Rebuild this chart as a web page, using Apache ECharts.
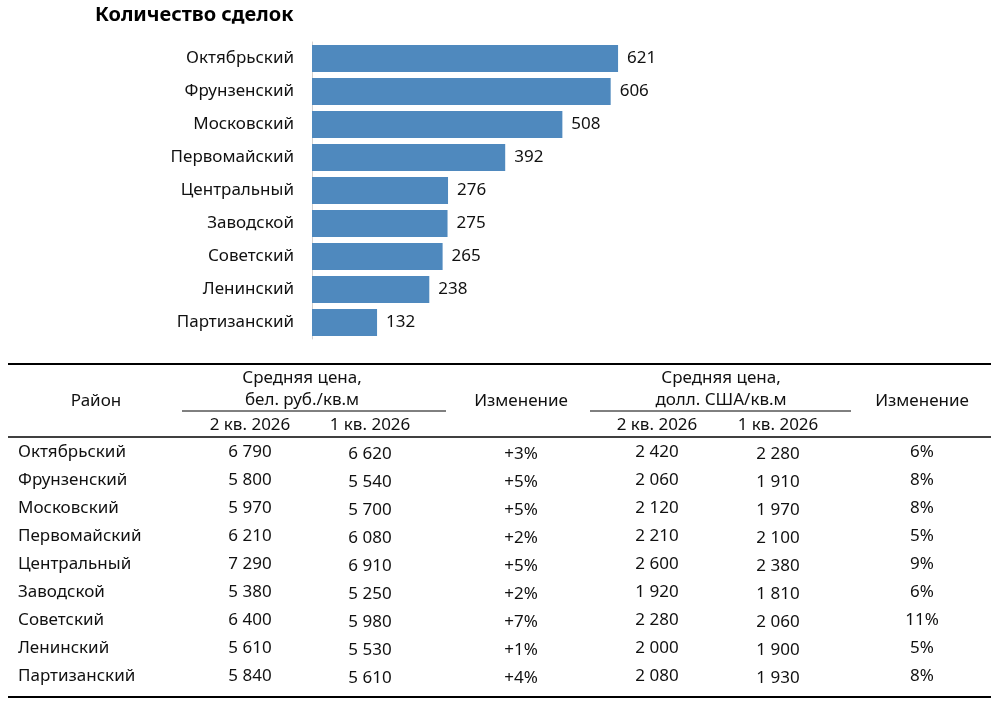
<!DOCTYPE html>
<html><head><meta charset="utf-8">
<script src="https://cdn.jsdelivr.net/npm/echarts@6/dist/echarts.min.js"></script>
<style>html,body{margin:0;background:#fff}#c{width:1000px;height:701px}</style>
</head><body><div id="c"></div>
<script>
var districts = ['Октябрьский','Фрунзенский','Московский','Первомайский','Центральный','Заводской','Советский','Ленинский','Партизанский'];
var deals = [621, 606, 508, 392, 276, 275, 265, 238, 132];
var bynQ2 = ['6 790','5 800','5 970','6 210','7 290','5 380','6 400','5 610','5 840'];
var bynQ1 = ['6 620','5 540','5 700','6 080','6 910','5 250','5 980','5 530','5 610'];
var bynChg = ['+3%','+5%','+5%','+2%','+5%','+2%','+7%','+1%','+4%'];
var usdQ2 = ['2 420','2 060','2 120','2 210','2 600','1 920','2 280','2 000','2 080'];
var usdQ1 = ['2 280','1 910','1 970','2 100','2 380','1 810','2 060','1 900','1 930'];
var usdChg = ['6%','8%','8%','5%','9%','6%','11%','5%','8%'];

var font = 'Noto Sans';
var chart = echarts.init(document.getElementById('c'));
var g = [];
function txt(x, y, s, align, extra) {
  g.push({type: 'text', x: x, y: y, style: Object.assign({text: s, fill: '#111', font: '17px "' + font + '"', align: align || 'center', verticalAlign: 'middle'}, extra || {})});
}
function line(x1, y1, x2, y2, w) {
  g.push({type: 'line', shape: {x1: x1, y1: y1, x2: x2, y2: y2}, style: {stroke: '#000', lineWidth: w}});
}
line(8, 364, 991, 364, 2);
line(8, 437, 991, 437, 1.5);
line(8, 697, 991, 697, 2);
line(182, 411, 446, 411, 1);
line(590, 411, 851, 411, 1);
txt(96, 401, 'Район');
txt(302, 378, 'Средняя цена,');
txt(302, 400, 'бел. руб./кв.м');
txt(250, 425, '2 кв. 2026');
txt(370, 425, '1 кв. 2026');
txt(521, 401, 'Изменение');
txt(721, 378, 'Средняя цена,');
txt(721, 400, 'долл. США/кв.м');
txt(657, 425, '2 кв. 2026');
txt(778, 425, '1 кв. 2026');
txt(922, 401, 'Изменение');
districts.forEach(function (d, i) {
  var y = 452 + i * 28;
  txt(18, y, d, 'left');
  txt(250, y, bynQ2[i]);
  txt(370, y + 2, bynQ1[i]);
  txt(521, y + 2, bynChg[i]);
  txt(657, y, usdQ2[i]);
  txt(778, y + 2, usdQ1[i]);
  txt(922, y, usdChg[i]);
});

chart.setOption({
  animation: false,
  title: {text: 'Количество сделок', left: 90, top: 0, textStyle: {fontFamily: font, fontSize: 20, fontWeight: 'bold', color: '#000'}},
  grid: {left: 312, top: 42, width: 345, height: 297},
  xAxis: {type: 'value', min: 0, max: 700, show: false},
  yAxis: {
    type: 'category', data: districts, inverse: true,
    axisLine: {lineStyle: {color: '#d0d0d0'}}, axisTick: {show: false},
    axisLabel: {fontFamily: font, fontSize: 17, color: '#111', margin: 18}
  },
  series: [{
    type: 'bar', data: deals, barWidth: 27,
    itemStyle: {color: '#4f89be'},
    label: {show: true, position: 'right', distance: 9, fontFamily: font, fontSize: 17, color: '#111'}
  }],
  graphic: g
});
</script></body></html>
